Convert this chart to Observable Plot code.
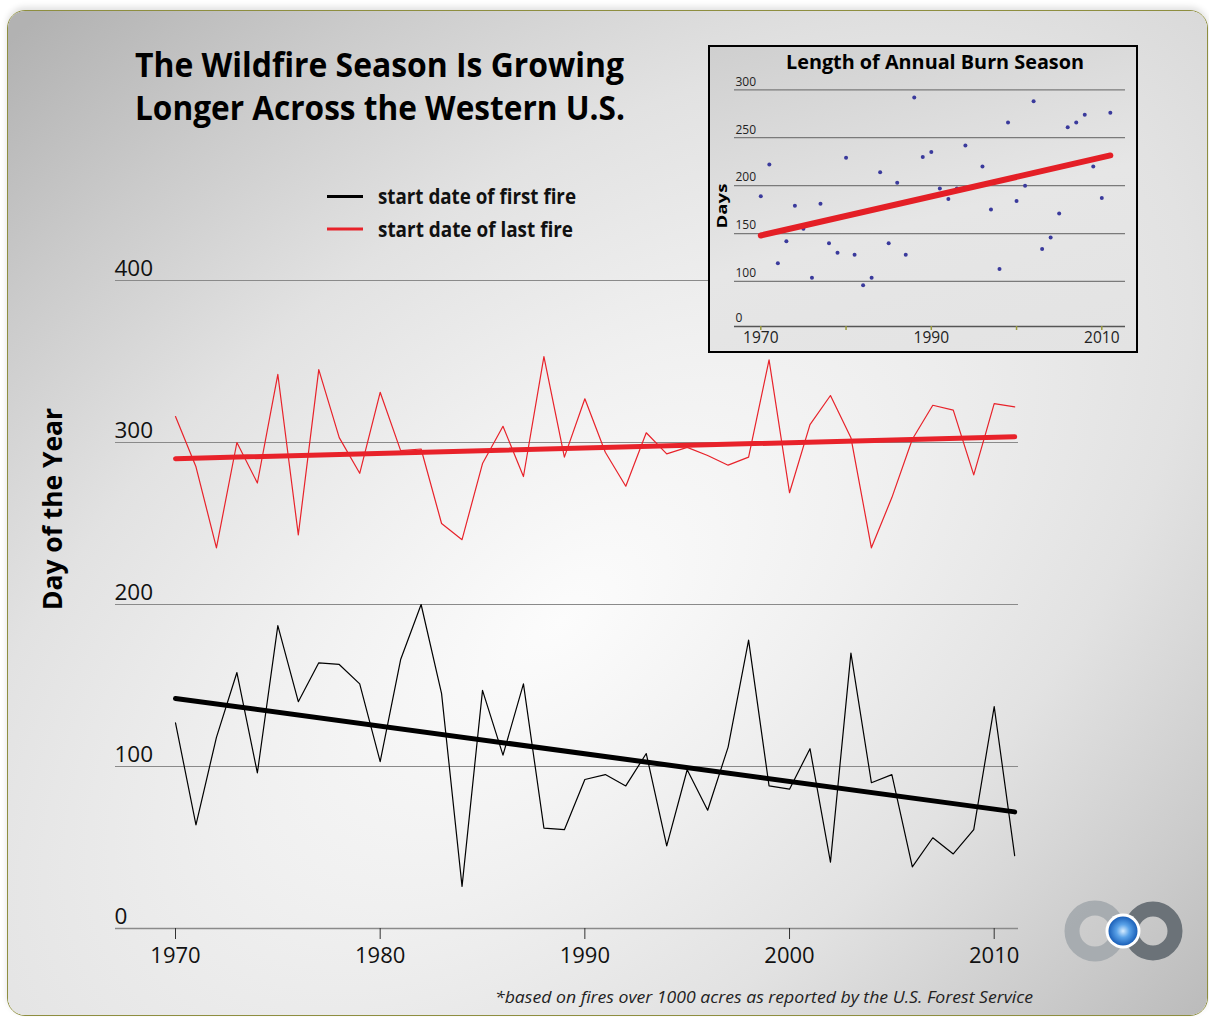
<!DOCTYPE html>
<html>
<head>
<meta charset="utf-8">
<script src="https://cdn.jsdelivr.net/npm/d3@7"></script>
<script src="https://cdn.jsdelivr.net/npm/@observablehq/plot@0.6"></script>
<style>
html, body { margin: 0; padding: 0; background: #fff; width: 1209px; height: 1017px; overflow: hidden; font-family: "Open Sans", sans-serif; }
#panel { position: absolute; left: 7px; top: 10px; width: 1199px; height: 1004px; border: 1.5px solid #8e8e40; border-radius: 18px; overflow: hidden; box-shadow: 0 -3px 6px rgba(0,0,0,0.12); }
#bg { position: absolute; left: -947px; top: -890px; width: 3000px; height: 3000px; transform: rotate(-40deg);
  background: radial-gradient(ellipse 1500px 800px at 50% 50%, #fcfcfc 0%, #f0f0f0 25%, #e2e2e2 50%, #cbcbcb 75%, #b2b2b2 100%); }
#main { position: absolute; left: 0; top: 0; }
#insetBox { position: absolute; left: 708px; top: 45px; width: 430px; height: 308px; box-sizing: border-box; border: 2px solid #000;
  background: linear-gradient(165deg, #cfcfcf 0%, #e6e6e6 55%, #e3e3e3 100%); }
#inset { position: absolute; left: 708px; top: 45px; }
#overlay { position: absolute; left: 0; top: 0; pointer-events: none; }
svg text { font-family: "Open Sans", sans-serif; }
</style>
</head>
<body>
<div id="panel"><div id="bg"></div></div>
<div id="main"></div>
<div id="insetBox"></div>
<div id="inset"></div>
<svg id="overlay" width="1209" height="1017">
  <defs>
    <radialGradient id="ball" cx="50%" cy="50%" r="50%">
      <stop offset="0%" stop-color="#d6ecff"/>
      <stop offset="45%" stop-color="#5aa2e8"/>
      <stop offset="100%" stop-color="#1a5fb8"/>
    </radialGradient>
  </defs>
  <text x="135" y="77" font-size="34" font-weight="700" fill="#000" textLength="489" lengthAdjust="spacingAndGlyphs">The Wildfire Season Is Growing</text>
  <text x="135" y="120" font-size="34" font-weight="700" fill="#000" textLength="490" lengthAdjust="spacingAndGlyphs">Longer Across the Western U.S.</text>
  <line x1="327" x2="363" y1="196.5" y2="196.5" stroke="#000" stroke-width="2.8"/>
  <text x="378" y="204" font-size="20.5" font-weight="700" fill="#111" textLength="198" lengthAdjust="spacingAndGlyphs">start date of first fire</text>
  <line x1="327" x2="363" y1="229" y2="229" stroke="#e8222a" stroke-width="2.8"/>
  <text x="378" y="237" font-size="20.5" font-weight="700" fill="#111" textLength="195" lengthAdjust="spacingAndGlyphs">start date of last fire</text>
  <text transform="translate(62,509) rotate(-90)" text-anchor="middle" font-size="27" font-weight="700" fill="#000" textLength="202" lengthAdjust="spacingAndGlyphs">Day of the Year</text>
  <text x="495" y="1003" font-size="17" font-style="italic" fill="#222" textLength="538" lengthAdjust="spacingAndGlyphs">*based on fires over 1000 acres as reported by the U.S. Forest Service</text>
  <text x="786" y="69" font-size="19.5" font-weight="700" fill="#000" textLength="298" lengthAdjust="spacingAndGlyphs">Length of Annual Burn Season</text>
  <text transform="translate(727,206) rotate(-90)" text-anchor="middle" font-size="14.5" font-weight="700" fill="#000" textLength="45" lengthAdjust="spacingAndGlyphs">Days</text>
  <g>
    <circle cx="1095" cy="931" r="23" fill="none" stroke="#a3a8ad" stroke-width="15" opacity="0.9"/>
    <circle cx="1153" cy="931" r="22" fill="none" stroke="#6b7278" stroke-width="15"/>
    <circle cx="1123" cy="931" r="17.5" fill="#ffffff"/>
    <circle cx="1123" cy="931" r="14.5" fill="url(#ball)"/>
  </g>
</svg>
<script>
// ---- data ----
const years = [1970,1971,1972,1973,1974,1975,1976,1977,1978,1979,1980,1981,1982,1983,1984,1985,1986,1987,1988,1989,1990,
  1991,1992,1993,1994,1995,1996,1997,1998,1999,2000,2001,2002,2003,2004,2005,2006,2007,2008,2009,2010,2011];
const firstFire = [127,64,118,158,96,187,140,164,163,151,103,166,200,145,26,147,107,151,62,61,92,
  95,88,108,51,98,73,112,178,88,86,111,41,170,90,95,38,56,46,61,137,45];
const lastFire = [316,285,235,300,275,342,243,345,303,281,331,295,296,250,240,287,310,279,353,291,327,
  294,273,306,293,297,292,286,291,351,269,311,329,303,235,266,302,323,320,280,324,322];
const seasonLength = [189,222,119,142,179,155,104,181,140,130,229,128,96,104,214,140,203,128,292,230,235,
  197,186,197,242,199,220,175,113,266,184,200,288,134,146,171,261,266,274,220,187,276];
const trendYears = [1970, 2011];
const firstTrend = [142, 72];
const lastTrend = [290, 303.5];
const lengthTrend = [148, 231.5];
const mainYTicks = [0, 100, 200, 300, 400];
const mainXTicks = [1970, 1980, 1990, 2000, 2010];
const insetFloor = 53; // broken axis floor, labelled "0"
const insetYTicks = [100, 150, 200, 250, 300];
const insetXLabels = [1970, 1990, 2010];
const insetXTicks = [1970, 1980, 1990, 2000, 2010];

const RED = "#e8222a";
const table = years.map((y, i) => ({year: y, first: firstFire[i], last: lastFire[i], len: seasonLength[i]}));
const trend = trendYears.map((y, i) => ({year: y, first: firstTrend[i], last: lastTrend[i], len: lengthTrend[i]}));

// ---- main chart ----
const main = Plot.plot({
  width: 1209, height: 1017,
  marginLeft: 115, marginRight: 191, marginTop: 260, marginBottom: 89,
  style: {background: "transparent", fontFamily: "Open Sans, sans-serif", color: "#111", overflow: "visible"},
  x: {domain: [1970, 2010], range: [175, 993.7]},
  y: {domain: [0, 400], range: [928, 280]},
  marks: [
    Plot.gridY(mainYTicks.filter(d => d > 0), {stroke: "#8a8a8a", strokeOpacity: 1, strokeWidth: 1}),
    Plot.ruleY([0], {stroke: "#8a8a8a", strokeWidth: 1.5}),
    Plot.axisY({ticks: mainYTicks, tickSize: 0, tickPadding: 0, textAnchor: "start", dx: -1, dy: -12, fontSize: 22.5, label: null}),
    Plot.axisX({ticks: mainXTicks, tickSize: 11, tickPadding: 8, fontSize: 22, tickFormat: d => String(d), label: null, stroke: "#333"}),
    Plot.line(table, {x: "year", y: "last", stroke: RED, strokeWidth: 1.2}),
    Plot.line(table, {x: "year", y: "first", stroke: "#000", strokeWidth: 1.2}),
    Plot.line(trend, {x: "year", y: "last", stroke: RED, strokeWidth: 5, strokeLinecap: "round"}),
    Plot.line(trend, {x: "year", y: "first", stroke: "#000", strokeWidth: 5, strokeLinecap: "round"})
  ]
});
document.getElementById("main").appendChild(main);

// ---- inset chart ----
const inset = Plot.plot({
  width: 430, height: 308,
  marginLeft: 26, marginRight: 13, marginTop: 20, marginBottom: 27,
  style: {background: "transparent", fontFamily: "Open Sans, sans-serif", color: "#222", overflow: "visible"},
  x: {domain: [1970, 2010], range: [52.3, 393.3]},
  y: {domain: [insetFloor, 300], range: [281, 44.3]},
  marks: [
    Plot.gridY(insetYTicks, {stroke: "#7a7a7a", strokeOpacity: 1, strokeWidth: 1.2}),
    Plot.ruleY([insetFloor], {stroke: "#555", strokeWidth: 1.5}),
    Plot.axisY({ticks: [insetFloor, ...insetYTicks], tickFormat: d => d === insetFloor ? "0" : String(d), tickSize: 0, tickPadding: 0, textAnchor: "start", dx: 1, dy: -8, fontSize: 12, label: null}),
    Plot.axisX({ticks: insetXTicks, tickSize: 4, tickFormat: () => "", stroke: "#9a9a3c", strokeWidth: 1.5, label: null}),
    Plot.axisX({ticks: insetXLabels, tickSize: 0, tickPadding: 5, fontSize: 15.5, tickFormat: d => String(d), label: null}),
    Plot.dot(table, {x: "year", y: "len", r: 2, fill: "#3a3a9c", stroke: null}),
    Plot.line(trend, {x: "year", y: "len", stroke: "#e41f26", strokeWidth: 6, strokeLinecap: "round"})
  ]
});
document.getElementById("inset").appendChild(inset);
</script>
</body>
</html>
